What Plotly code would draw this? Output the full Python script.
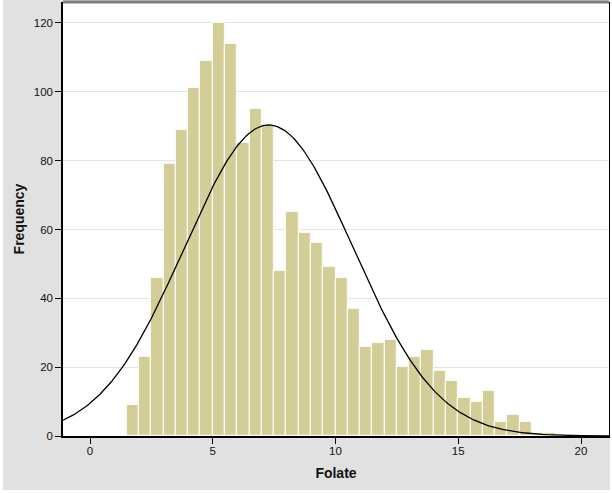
import numpy as np
import plotly.graph_objects as go

# Histogram of Folate: bins of width 0.5 starting at 1.5
bin_starts = [1.5, 2.0, 2.5, 3.0, 3.5, 4.0, 4.5, 5.0, 5.5, 6.0, 6.5, 7.0, 7.5, 8.0,
              8.5, 9.0, 9.5, 10.0, 10.5, 11.0, 11.5, 12.0, 12.5, 13.0, 13.5, 14.0,
              14.5, 15.0, 15.5, 16.0, 16.5, 17.0, 17.5, 18.0, 18.5]
counts = [9, 23, 46, 79, 89, 101, 109, 120, 114, 85, 95, 90, 48, 65,
          59, 56, 49, 46, 37, 26, 27, 28, 20, 23, 25, 19,
          16, 11, 10, 13, 4, 6, 4, 1, 1]
bin_width = 0.5

# Normal curve parameters
curve_mean = 7.28
curve_sd = 3.43
n_total = sum(counts)

x_ticks = [0, 5, 10, 15, 20]
y_ticks = [0, 20, 40, 60, 80, 100, 120]

centers = [b + bin_width / 2 for b in bin_starts]
xc = np.linspace(-1.1, 21.15, 400)
yc = n_total * bin_width / (curve_sd * np.sqrt(2 * np.pi)) * np.exp(-0.5 * ((xc - curve_mean) / curve_sd) ** 2)

fig = go.Figure()
fig.add_trace(go.Bar(
    x=centers, y=counts, width=bin_width,
    marker=dict(color="#D3CE97", line=dict(color="#FBFAF2", width=1.2)),
    hoverinfo="x+y", showlegend=False,
))
fig.add_trace(go.Scatter(
    x=xc, y=yc, mode="lines", line=dict(color="black", width=1.3),
    showlegend=False, hoverinfo="skip",
))

W, H = 612, 493
ml, mr, mt, mb = 63, 3, 2, 57
pw, ph = W - ml - mr, H - mt - mb

def px_x(p):
    return (p - ml) / pw

def px_y(p):
    return 1 - (p - mt) / ph

font = "Liberation Sans, Arial, sans-serif"
fig.update_layout(
    width=W, height=H,
    margin=dict(l=ml, r=mr, t=mt, b=mb),
    paper_bgcolor="#E1E1E1",
    plot_bgcolor="white",
    bargap=0,
    font=dict(family=font, size=11, color="#111111"),
    xaxis=dict(
        range=[-1.1, 21.14], tickvals=x_ticks, ticks="outside", ticklen=6,
        tickcolor="black", tickwidth=1, showgrid=False, zeroline=False,
        showline=True, linecolor="black", linewidth=1.5, mirror=False,
        tickfont=dict(size=11.5, family=font), ticklabelstandoff=-3,
        title=dict(text="<b>Folate</b>", font=dict(size=14, family=font), standoff=13),
    ),
    yaxis=dict(
        range=[0, 126.1], tickvals=y_ticks, ticks="outside", ticklen=6,
        tickcolor="black", tickwidth=1, showgrid=True, gridcolor="#E4E4E4",
        gridwidth=1, zeroline=False,
        showline=True, linecolor="black", linewidth=1.5, mirror=True,
        tickfont=dict(size=11.5, family=font),
        title=dict(text="<b>Frequency</b>", font=dict(size=14, family=font), standoff=6),
    ),
    shapes=[
        dict(type="line", xref="paper", yref="paper", x0=0, x1=1, y0=1, y1=1,
             line=dict(color="#7F7F7F", width=3)),
        dict(type="rect", xref="paper", yref="paper", x0=px_x(-5), x1=px_x(3),
             y0=px_y(500), y1=px_y(-5), fillcolor="white", line=dict(width=0)),
        dict(type="rect", xref="paper", yref="paper", x0=px_x(610), x1=px_x(620),
             y0=px_y(500), y1=px_y(-5), fillcolor="white", line=dict(width=0)),
        dict(type="rect", xref="paper", yref="paper", x0=px_x(-5), x1=px_x(620),
             y0=px_y(500), y1=px_y(490), fillcolor="white", line=dict(width=0)),
    ],
)

fig.write_html("out.html")
